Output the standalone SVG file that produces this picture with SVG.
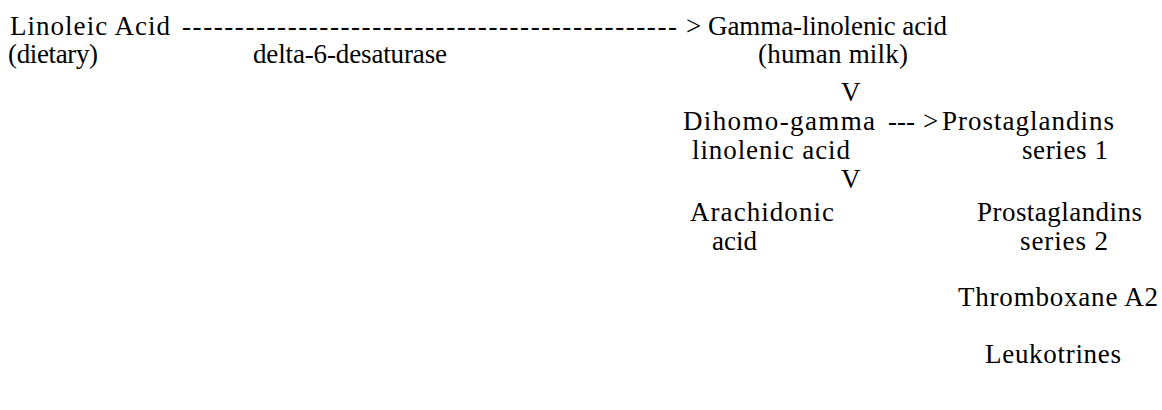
<svg xmlns="http://www.w3.org/2000/svg" width="1162" height="410" viewBox="0 0 1162 410">
<style>
text{font-family:"Liberation Serif","Times New Roman",Times,serif;font-size:27px;fill:#000}
</style>
<rect width="1162" height="410" fill="#fff"/>
<g font-family="Liberation Serif, Times New Roman, serif">
<g id="linoleic"><text x="10" y="35" textLength="160" lengthAdjust="spacing">Linoleic Acid</text><text x="8" y="63" textLength="90" lengthAdjust="spacing">(dietary)</text></g>
<g id="connectors">
<text x="182" y="35" textLength="495" lengthAdjust="spacing">-----------------------------------------------</text>
<text x="686" y="35">&gt;</text>
<text x="253" y="63" textLength="194" lengthAdjust="spacing">delta-6-desaturase</text>
<text x="841" y="101">V</text>
<text x="888" y="130">---</text>
<text x="923" y="130">&gt;</text>
<text x="841" y="188">V</text>
</g>
<g id="gla"><text x="708" y="35" textLength="239" lengthAdjust="spacing">Gamma-linolenic acid</text><text x="758" y="63" textLength="150" lengthAdjust="spacing">(human milk)</text></g>
<g id="dgla"><text x="683" y="130" textLength="192" lengthAdjust="spacing">Dihomo-gamma</text><text x="692" y="159" textLength="158" lengthAdjust="spacing">linolenic acid</text></g>
<g id="pg1"><text x="942" y="130" textLength="172" lengthAdjust="spacing">Prostaglandins</text><text x="1022" y="159" textLength="86" lengthAdjust="spacing">series 1</text></g>
<g id="aa"><text x="690" y="221" textLength="144" lengthAdjust="spacing">Arachidonic</text><text x="712" y="250">acid</text></g>
<g id="pg2"><text x="977" y="221" textLength="165" lengthAdjust="spacing">Prostaglandins</text><text x="1020" y="250" textLength="88" lengthAdjust="spacing">series 2</text></g>
<g id="txa2"><text x="958" y="306" textLength="200" lengthAdjust="spacing">Thromboxane A2</text></g>
<g id="lt"><text x="985" y="363" textLength="136" lengthAdjust="spacing">Leukotrines</text></g>
</g>
</svg>
